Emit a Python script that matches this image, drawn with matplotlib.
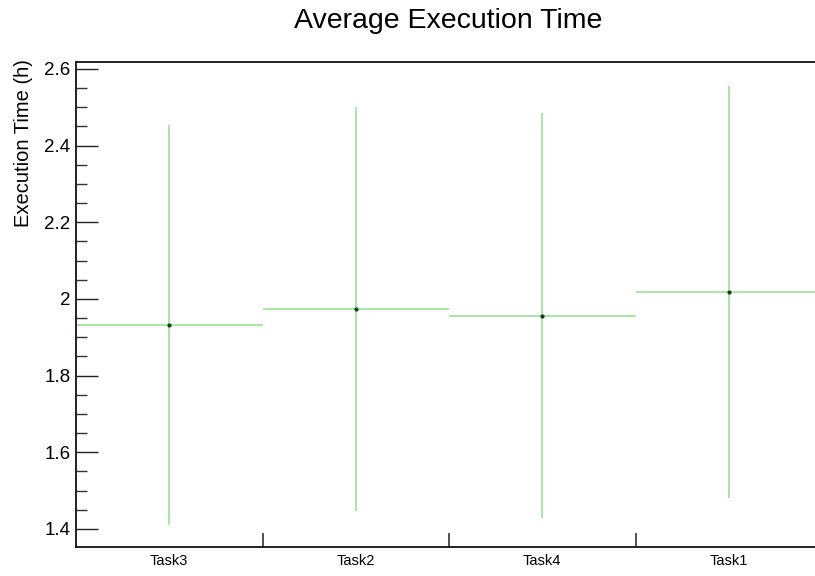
import numpy as np
import matplotlib.pyplot as plt
from matplotlib.ticker import MultipleLocator, FormatStrFormatter, FixedLocator

plt.rcParams['font.family'] = ['Liberation Sans', 'DejaVu Sans']

tasks = ["Task3", "Task2", "Task4", "Task1"]
mean_time = [1.932, 1.974, 1.956, 2.018]
err_time = [0.521, 0.527, 0.528, 0.537]

line_color = "#8fe08f"

fig = plt.figure(figsize=(8.15, 5.76), dpi=100)
ax = fig.add_axes([76 / 815, 29 / 576, 746 / 815, 485 / 576])

centers = np.arange(len(tasks)) + 0.5
ax.errorbar(centers, mean_time, xerr=0.5, yerr=err_time, fmt='none',
            ecolor=line_color, elinewidth=1.1, capsize=0)
ax.plot(centers, mean_time, 'o', color="#1a3a1a", markersize=2)

ax.set_xlim(0, len(tasks))
ax.set_ylim(1.353, 2.618)

# y axis
ax.yaxis.set_major_locator(MultipleLocator(0.2))
ax.yaxis.set_minor_locator(MultipleLocator(0.05))
ax.yaxis.set_major_formatter(FormatStrFormatter('%g'))
ax.tick_params(axis='y', which='major', direction='in', length=16, width=1,
               labelsize=13.5, pad=4, color='#222222')
ax.tick_params(axis='y', which='minor', direction='in', length=8, width=1,
               color='#333333')

# x axis: bin edges as ticks, labels at bin centres
ax.xaxis.set_major_locator(FixedLocator([1, 2, 3]))
ax.xaxis.set_major_formatter(plt.NullFormatter())
ax.xaxis.set_minor_locator(FixedLocator(centers))
ax.set_xticklabels(tasks, minor=True)
ax.tick_params(axis='x', which='major', direction='in', length=10, width=1.2,
               color='#333333')
ax.tick_params(axis='x', which='minor', length=0, labelsize=10.5, pad=5)

for side in ['left', 'bottom', 'top']:
    ax.spines[side].set_linewidth(1.3)
    ax.spines[side].set_color('#111111')
ax.spines['right'].set_visible(False)

ax.set_ylabel("Execution Time (h)", fontsize=14.5, loc='top')
ax.yaxis.set_label_coords(-0.057, 1.005)
fig.text(448 / 815, 1 - 21 / 576, "Average Execution Time", fontsize=20.5,
         ha='center', va='center')

fig.savefig("out.png", dpi=100)
